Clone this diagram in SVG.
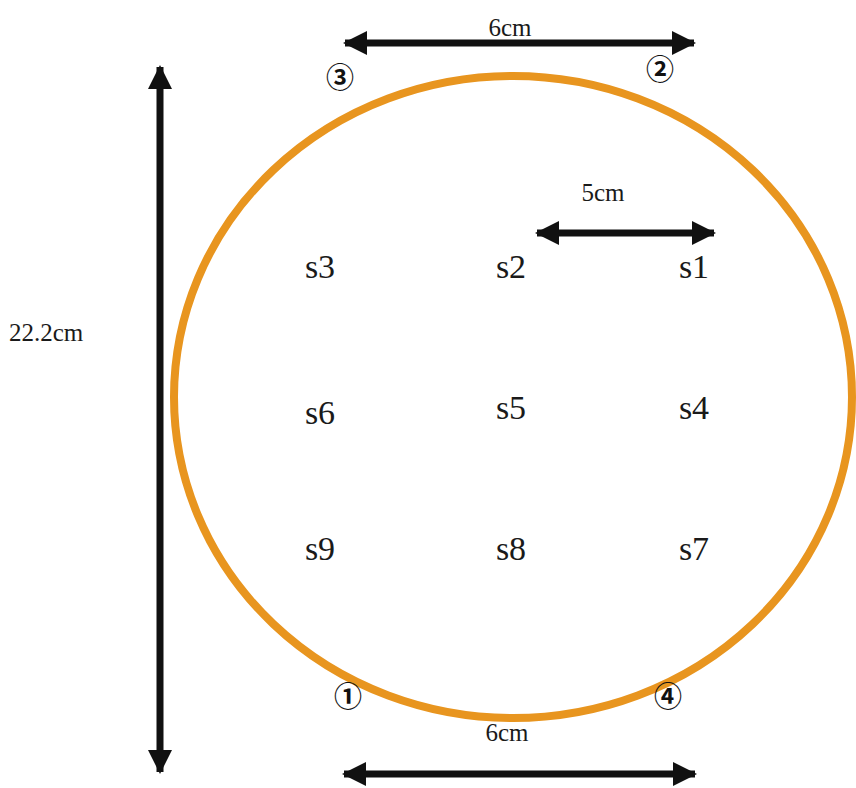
<svg xmlns="http://www.w3.org/2000/svg" width="856" height="788" viewBox="0 0 856 788">
<defs>
<marker id="ah" viewBox="0 0 24 24" refX="22" refY="12" markerWidth="24" markerHeight="24" markerUnits="userSpaceOnUse" orient="auto-start-reverse">
<polygon points="0,0 24,12 0,24" fill="#111"/>
</marker>
<style>
.lbl{font-family:"Liberation Serif","Times New Roman",serif;fill:#1a1a1a}
.s{font-size:34px}
.m{font-size:25px}
.c{font-family:"Noto Sans CJK JP","DejaVu Sans",sans-serif;font-size:28px;font-weight:bold;fill:#111}
.arr{stroke:#111;stroke-width:7;fill:none;marker-start:url(#ah);marker-end:url(#ah)}
</style>
</defs>
<rect width="856" height="788" fill="#fff"/>
<g id="ring">
<ellipse cx="513" cy="397" rx="339" ry="321" fill="none" stroke="#E8951F" stroke-width="8"/>
</g>
<g id="connectors">
<line class="arr" x1="345" y1="43" x2="694" y2="43"/>
<line class="arr" x1="537" y1="233" x2="714" y2="233"/>
<line class="arr" x1="344" y1="774" x2="695" y2="774"/>
<line class="arr" x1="160" y1="67" x2="160" y2="772"/>
</g>
<g id="dims">
<text class="lbl m" x="510" y="36" text-anchor="middle">6cm</text>
<text class="lbl m" x="603" y="201" text-anchor="middle">5cm</text>
<text class="lbl m" x="507" y="741" text-anchor="middle">6cm</text>
<text class="lbl m" x="9" y="341">22.2cm</text>
</g>
<g id="marks">
<text class="c" x="340" y="88" text-anchor="middle">③</text>
<text class="c" x="660" y="80" text-anchor="middle">②</text>
<text class="c" x="348" y="707" text-anchor="middle">①</text>
<text class="c" x="668" y="707" text-anchor="middle">④</text>
</g>
<g id="s1"><text class="lbl s" x="694" y="278" text-anchor="middle">s1</text></g>
<g id="s2"><text class="lbl s" x="511" y="278" text-anchor="middle">s2</text></g>
<g id="s3"><text class="lbl s" x="320" y="278" text-anchor="middle">s3</text></g>
<g id="s4"><text class="lbl s" x="694" y="419" text-anchor="middle">s4</text></g>
<g id="s5"><text class="lbl s" x="511" y="419" text-anchor="middle">s5</text></g>
<g id="s6"><text class="lbl s" x="320" y="424" text-anchor="middle">s6</text></g>
<g id="s7"><text class="lbl s" x="694" y="560" text-anchor="middle">s7</text></g>
<g id="s8"><text class="lbl s" x="511" y="560" text-anchor="middle">s8</text></g>
<g id="s9"><text class="lbl s" x="320" y="560" text-anchor="middle">s9</text></g>
</svg>
